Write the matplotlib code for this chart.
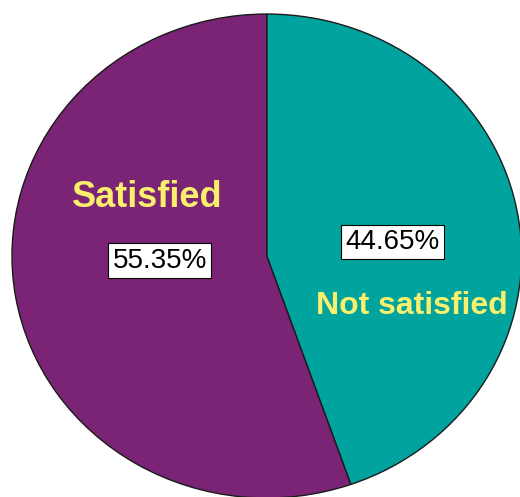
import matplotlib
matplotlib.use("Agg")
import matplotlib.pyplot as plt

categories = ["Not satisfied", "Satisfied"]
values = [44.65, 55.35]
colors = ["#00A39E", "#7B2475"]

# label placement (data coords of unit pie)
label_pos = {"Not satisfied": (0.569, -0.205), "Satisfied": (-0.47, 0.24)}
label_size = {"Not satisfied": 23, "Satisfied": 26}
pct_pos = {"Not satisfied": (0.494, 0.058), "Satisfied": (-0.42, -0.02)}

fig = plt.figure(figsize=(5.2, 4.97), dpi=100)
ax = fig.add_axes([0, 0, 1, 1])
wedges, _ = ax.pie(values, colors=colors, startangle=90, counterclock=False,
                   wedgeprops=dict(edgecolor="#1a1a1a", linewidth=1.0))
ax.set_aspect("auto")
ax.set_xlim(-1.047, 0.994)
ax.set_ylim(-0.996, 1.058)
ax.axis("off")

for cat, v in zip(categories, values):
    lx, ly = label_pos[cat]
    ax.text(lx, ly, cat, ha="center", va="center", fontsize=label_size[cat], fontweight="bold",
            color="#F8F06C", family="Liberation Sans")
    px, py = pct_pos[cat]
    ax.text(px, py, f"{v:.2f}%", ha="center", va="center", fontsize=20,
            color="black", family="Liberation Sans",
            bbox=dict(boxstyle="square,pad=0.16", facecolor="white", edgecolor="black", linewidth=0.8))

fig.savefig("out.png", dpi=100)
